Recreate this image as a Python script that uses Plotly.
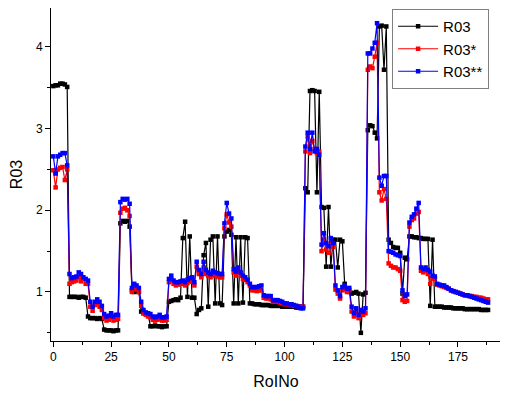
import plotly.graph_objects as go

roi_no = list(range(0, 189))

r03 = [
    3.52, 3.53, 3.53, 3.55, 3.55, 3.54, 3.51,
    0.94, 0.94, 0.94, 0.94, 0.93, 0.94, 0.94, 0.93,
    0.70, 0.68, 0.68, 0.68, 0.67, 0.68, 0.67,
    0.54, 0.53, 0.53, 0.53, 0.52, 0.53, 0.53,
    1.84, 1.87, 1.86, 1.87, 1.80,
    1.02, 1.00, 1.01, 1.00,
    0.76, 0.74, 0.74, 0.73,
    0.58, 0.58, 0.59, 0.58, 0.58, 0.57, 0.58, 0.58,
    0.88, 0.89, 0.90, 0.91, 0.90, 0.93,
    1.66, 1.86, 0.94, 1.68, 0.93, 0.93,
    0.73, 0.78, 0.80, 1.45, 1.60, 0.82, 1.64, 1.68, 0.86, 1.68, 0.86, 0.84,
    1.68, 1.74, 1.76, 1.70,
    0.86, 1.67, 0.86, 1.67, 0.87, 1.67, 1.66, 0.86,
    0.86, 0.85, 0.85, 0.85, 0.84, 0.84, 0.84, 0.84, 0.83, 0.83, 0.83,
    0.83, 0.83, 0.82, 0.82, 0.82, 0.82, 0.82, 0.82, 0.81, 0.81, 0.82,
    0.82,
    2.27, 2.22, 3.46, 3.47, 3.46, 2.22, 3.45,
    2.04, 2.03, 1.31, 2.04, 1.31, 1.64, 1.64, 1.30, 1.64, 1.62,
    1.10, 1.02, 1.00, 0.98, 0.99, 1.00, 0.98, 0.50, 0.97, 0.99,
    2.98, 3.04, 3.03, 2.95, 2.88,
    4.25, 4.26, 3.72, 4.25,
    1.64, 1.60, 1.55, 1.54, 1.54, 1.48, 0.98, 1.42, 1.40,
    1.68, 1.68, 1.67, 1.67, 1.66, 1.66, 1.65, 1.65, 1.65, 0.83, 1.64, 0.82,
    0.82, 0.82, 0.82, 0.81, 0.81, 0.81, 0.81, 0.80, 0.80, 0.80, 0.80, 0.80,
    0.79, 0.79, 0.79, 0.79, 0.79, 0.79, 0.79, 0.78, 0.78, 0.78, 0.78,
]

r03_star = [
    2.49, 2.28, 2.50, 2.52, 2.53, 2.37, 2.50,
    1.10, 1.12, 1.13, 1.14, 1.18, 1.13, 1.16, 1.10, 1.10,
    0.82, 0.77, 0.84, 0.86, 0.82, 0.78,
    0.68, 0.65, 0.66, 0.69, 0.65, 0.66, 0.67,
    1.97, 2.02, 2.03, 2.00, 1.93,
    1.00, 1.04, 1.03, 1.00,
    0.83, 0.74, 0.72, 0.70, 0.69, 0.66, 0.65, 0.66, 0.67, 0.65, 0.65, 0.66,
    1.12, 1.16, 1.10, 1.08, 1.09, 1.10, 1.10, 1.08, 1.11, 1.13, 1.13, 1.08,
    1.31, 1.22, 1.18, 1.30, 1.22, 1.20, 1.18, 1.21, 1.20, 1.19, 1.18, 1.18,
    1.78, 1.95, 1.85, 1.80,
    1.24, 1.20, 1.26, 1.20, 1.16, 1.15, 1.12, 1.08,
    1.02, 1.02, 1.01, 1.02, 1.02, 0.93, 0.92, 0.92, 0.91, 0.88, 0.88,
    0.88, 0.87, 0.86, 0.85, 0.85, 0.84, 0.84, 0.83, 0.83, 0.82, 0.82,
    0.82,
    2.72, 2.90, 2.70, 2.85, 2.75, 2.70, 2.72,
    1.50, 1.64, 1.52, 1.48, 1.60, 1.55, 1.03, 0.98, 0.92, 1.02,
    1.04, 1.00, 1.02, 0.76, 0.70, 0.76, 0.68, 0.74, 0.72, 0.74,
    3.72, 3.76, 3.74, 3.88, 4.05, 2.22, 2.12, 2.26, 2.14,
    1.35, 1.32, 1.30, 1.30, 1.28, 1.26, 0.90, 0.88, 0.89,
    1.80, 1.88, 1.90, 1.96, 1.98,
    1.26, 1.24, 1.26, 1.22, 1.10, 1.16, 1.16,
    1.09, 1.08, 1.07, 1.06, 1.05, 1.04, 1.02, 1.01, 1.00, 0.99, 0.98, 0.97,
    0.96, 0.96, 0.95, 0.95, 0.94, 0.94, 0.93, 0.93, 0.92, 0.91, 0.91,
]

r03_2star = [
    2.66, 2.45, 2.66, 2.68, 2.70, 2.70, 2.55,
    1.22, 1.17, 1.18, 1.19, 1.24, 1.22, 1.18, 1.16, 1.14,
    0.88, 0.82, 0.88, 0.91, 0.88, 0.83,
    0.73, 0.70, 0.71, 0.74, 0.70, 0.72, 0.72,
    2.10, 2.14, 2.13, 2.14, 2.08,
    1.05, 1.10, 1.08, 1.05,
    0.88, 0.78, 0.75, 0.74, 0.73, 0.70, 0.69, 0.70, 0.72, 0.69, 0.69, 0.70,
    1.16, 1.20, 1.14, 1.12, 1.12, 1.13, 1.14, 1.12, 1.15, 1.17, 1.18, 1.12,
    1.37, 1.27, 1.22, 1.37, 1.27, 1.24, 1.22, 1.26, 1.24, 1.23, 1.22, 1.22,
    1.84, 2.09, 1.96, 1.90,
    1.28, 1.25, 1.30, 1.24, 1.20, 1.18, 1.15, 1.10,
    1.06, 1.06, 1.06, 1.07, 1.08, 0.96, 0.95, 0.95, 0.95, 0.90, 0.90,
    0.90, 0.89, 0.88, 0.86, 0.86, 0.85, 0.85, 0.84, 0.83, 0.82, 0.80,
    0.80,
    2.78, 2.95, 2.75, 2.95, 2.72, 2.75, 2.68,
    1.58, 1.72, 1.60, 1.56, 1.66, 1.60, 1.08, 1.02, 0.95, 1.06,
    1.08, 1.04, 1.05, 0.82, 0.74, 0.80, 0.72, 0.78, 0.76, 0.80,
    3.92, 3.92, 3.98, 4.05, 4.29, 2.40, 2.30, 2.42, 2.42,
    1.50, 1.49, 1.48, 1.46, 1.45, 1.44, 1.02, 0.95, 0.97,
    1.85, 1.92, 1.95, 2.02, 2.09,
    1.30, 1.28, 1.30, 1.27, 1.25, 1.20, 1.19,
    1.10, 1.09, 1.08, 1.08, 1.06, 1.04, 1.02, 1.01, 1.00, 0.99, 0.98, 0.97,
    0.96, 0.96, 0.95, 0.94, 0.93, 0.92, 0.91, 0.90, 0.89, 0.88, 0.87,
]

series_names = ["R03", "R03*", "R03**"]
series_values = [r03, r03_star, r03_2star]
series_colors = ["#000000", "#ff0000", "#0000ff"]

x_ticks = [0, 25, 50, 75, 100, 125, 150, 175]
y_ticks = [1, 2, 3, 4]

FONT = "Arial, Liberation Sans, sans-serif"

fig = go.Figure()
for name, vals, col in zip(series_names, series_values, series_colors):
    fig.add_trace(go.Scatter(
        x=roi_no[:len(vals)], y=vals, name=name, mode="lines+markers",
        line=dict(color=col, width=1.2),
        marker=dict(symbol="square", size=4.5, color=col),
    ))

axis_common = dict(
    showline=True, linecolor="black", linewidth=1, mirror=False,
    showgrid=False, zeroline=False, ticks="outside", ticklen=5,
    tickcolor="black", tickwidth=1, automargin=False,
    tickfont=dict(family=FONT, size=12, color="black"),
)

# the page body has an 8px default margin, so the figure is sized to fit
fig.update_layout(
    width=500, height=391,
    margin=dict(l=43, r=7, t=0, b=58),
    paper_bgcolor="white", plot_bgcolor="white",
    font=dict(family=FONT, color="black"),
    xaxis=dict(
        range=[-1.0, 193.6], tickvals=x_ticks,
        title=dict(text="RoINo", font=dict(family=FONT, size=16), standoff=12),
        minor=dict(dtick=12.5, tick0=0, ticks="outside", ticklen=3, tickcolor="black"),
        **axis_common,
    ),
    yaxis=dict(
        range=[0.4, 4.476], tickvals=y_ticks,
        title=dict(text="R03", font=dict(family=FONT, size=16), standoff=12),
        minor=dict(dtick=0.5, tick0=0, ticks="outside", ticklen=3, tickcolor="black"),
        **axis_common,
    ),
    legend=dict(
        x=0.758, y=0.997, xanchor="left", yanchor="top",
        bgcolor="white", bordercolor="#808080", borderwidth=1,
        font=dict(family=FONT, size=15, color="black"),
        tracegroupgap=0, itemwidth=40,
    ),
)

fig.write_html("out.html")
